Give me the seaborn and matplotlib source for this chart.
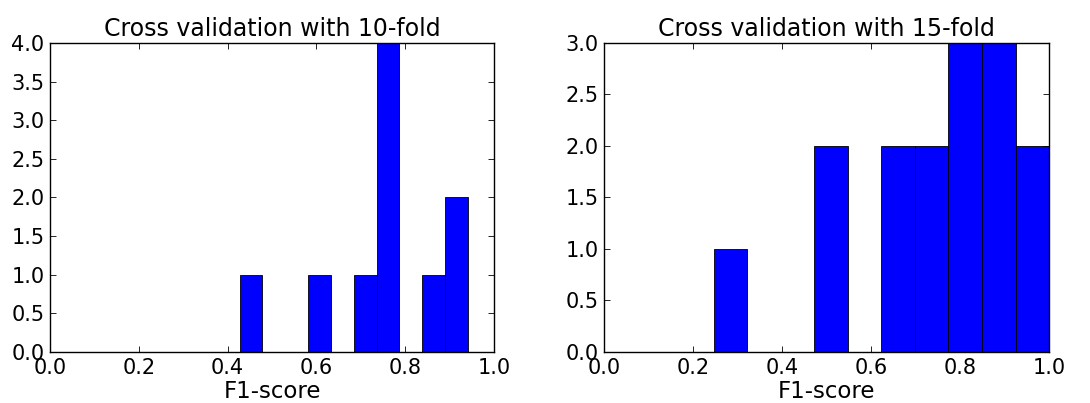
import matplotlib
matplotlib.use("Agg")
import matplotlib.pyplot as plt
import seaborn as sns
import numpy as np
from matplotlib.ticker import FormatStrFormatter

# F1-scores obtained on each fold
scores_10fold = [0.427, 0.61, 0.71, 0.75, 0.76, 0.77, 0.78, 0.86, 0.92, 0.941]
scores_15fold = [0.247, 0.50, 0.52, 0.65, 0.68, 0.72, 0.75, 0.79, 0.81, 0.83,
                 0.87, 0.89, 0.91, 0.95, 1.0]
titles = ["Cross validation with 10-fold", "Cross validation with 15-fold"]
x_label = "F1-score"
x_ticks = [0.0, 0.2, 0.4, 0.6, 0.8, 1.0]

sns.set_style("ticks")
plt.rcParams["font.family"] = ["DejaVu Sans"]
plt.rcParams.update({
    "xtick.direction": "in", "ytick.direction": "in",
    "xtick.top": True, "ytick.right": True,
    "xtick.major.size": 4, "ytick.major.size": 4,
    "xtick.major.width": 0.6, "ytick.major.width": 0.6,
    "axes.edgecolor": "black", "axes.linewidth": 1.0,
    "text.color": "black", "axes.labelcolor": "black",
    "xtick.color": "black", "ytick.color": "black",
    "font.size": 15,
})

fig = plt.figure(figsize=(10.9, 4.03), dpi=100)
ax1 = fig.add_axes([0.0459, 0.1266, 0.4073, 0.767])
ax2 = fig.add_axes([0.5541, 0.1266, 0.4083, 0.767])

for ax, scores, title in zip([ax1, ax2], [scores_10fold, scores_15fold], titles):
    sns.histplot(x=scores, bins=10, ax=ax, color="#0000ff", alpha=1.0,
                 edgecolor="black", linewidth=0.6)
    ax.set_xlim(0, 1)
    counts, _ = np.histogram(scores, bins=10)
    ax.set_ylim(0, counts.max())
    ax.set_xticks(x_ticks)
    ax.xaxis.set_major_formatter(FormatStrFormatter("%.1f"))
    ax.yaxis.set_major_formatter(FormatStrFormatter("%.1f"))
    ax.set_yticks(np.arange(0, counts.max() + 0.01, 0.5))
    ax.tick_params(axis="both", labelsize=15)
    ax.tick_params(axis="x", pad=4)
    ax.tick_params(axis="y", pad=4)
    ax.set_ylabel("")
    ax.set_xlabel(x_label, fontsize=16.5, labelpad=1.5)
    ax.set_title(title, fontsize=17, pad=5)

fig.savefig("out.png", dpi=100)
